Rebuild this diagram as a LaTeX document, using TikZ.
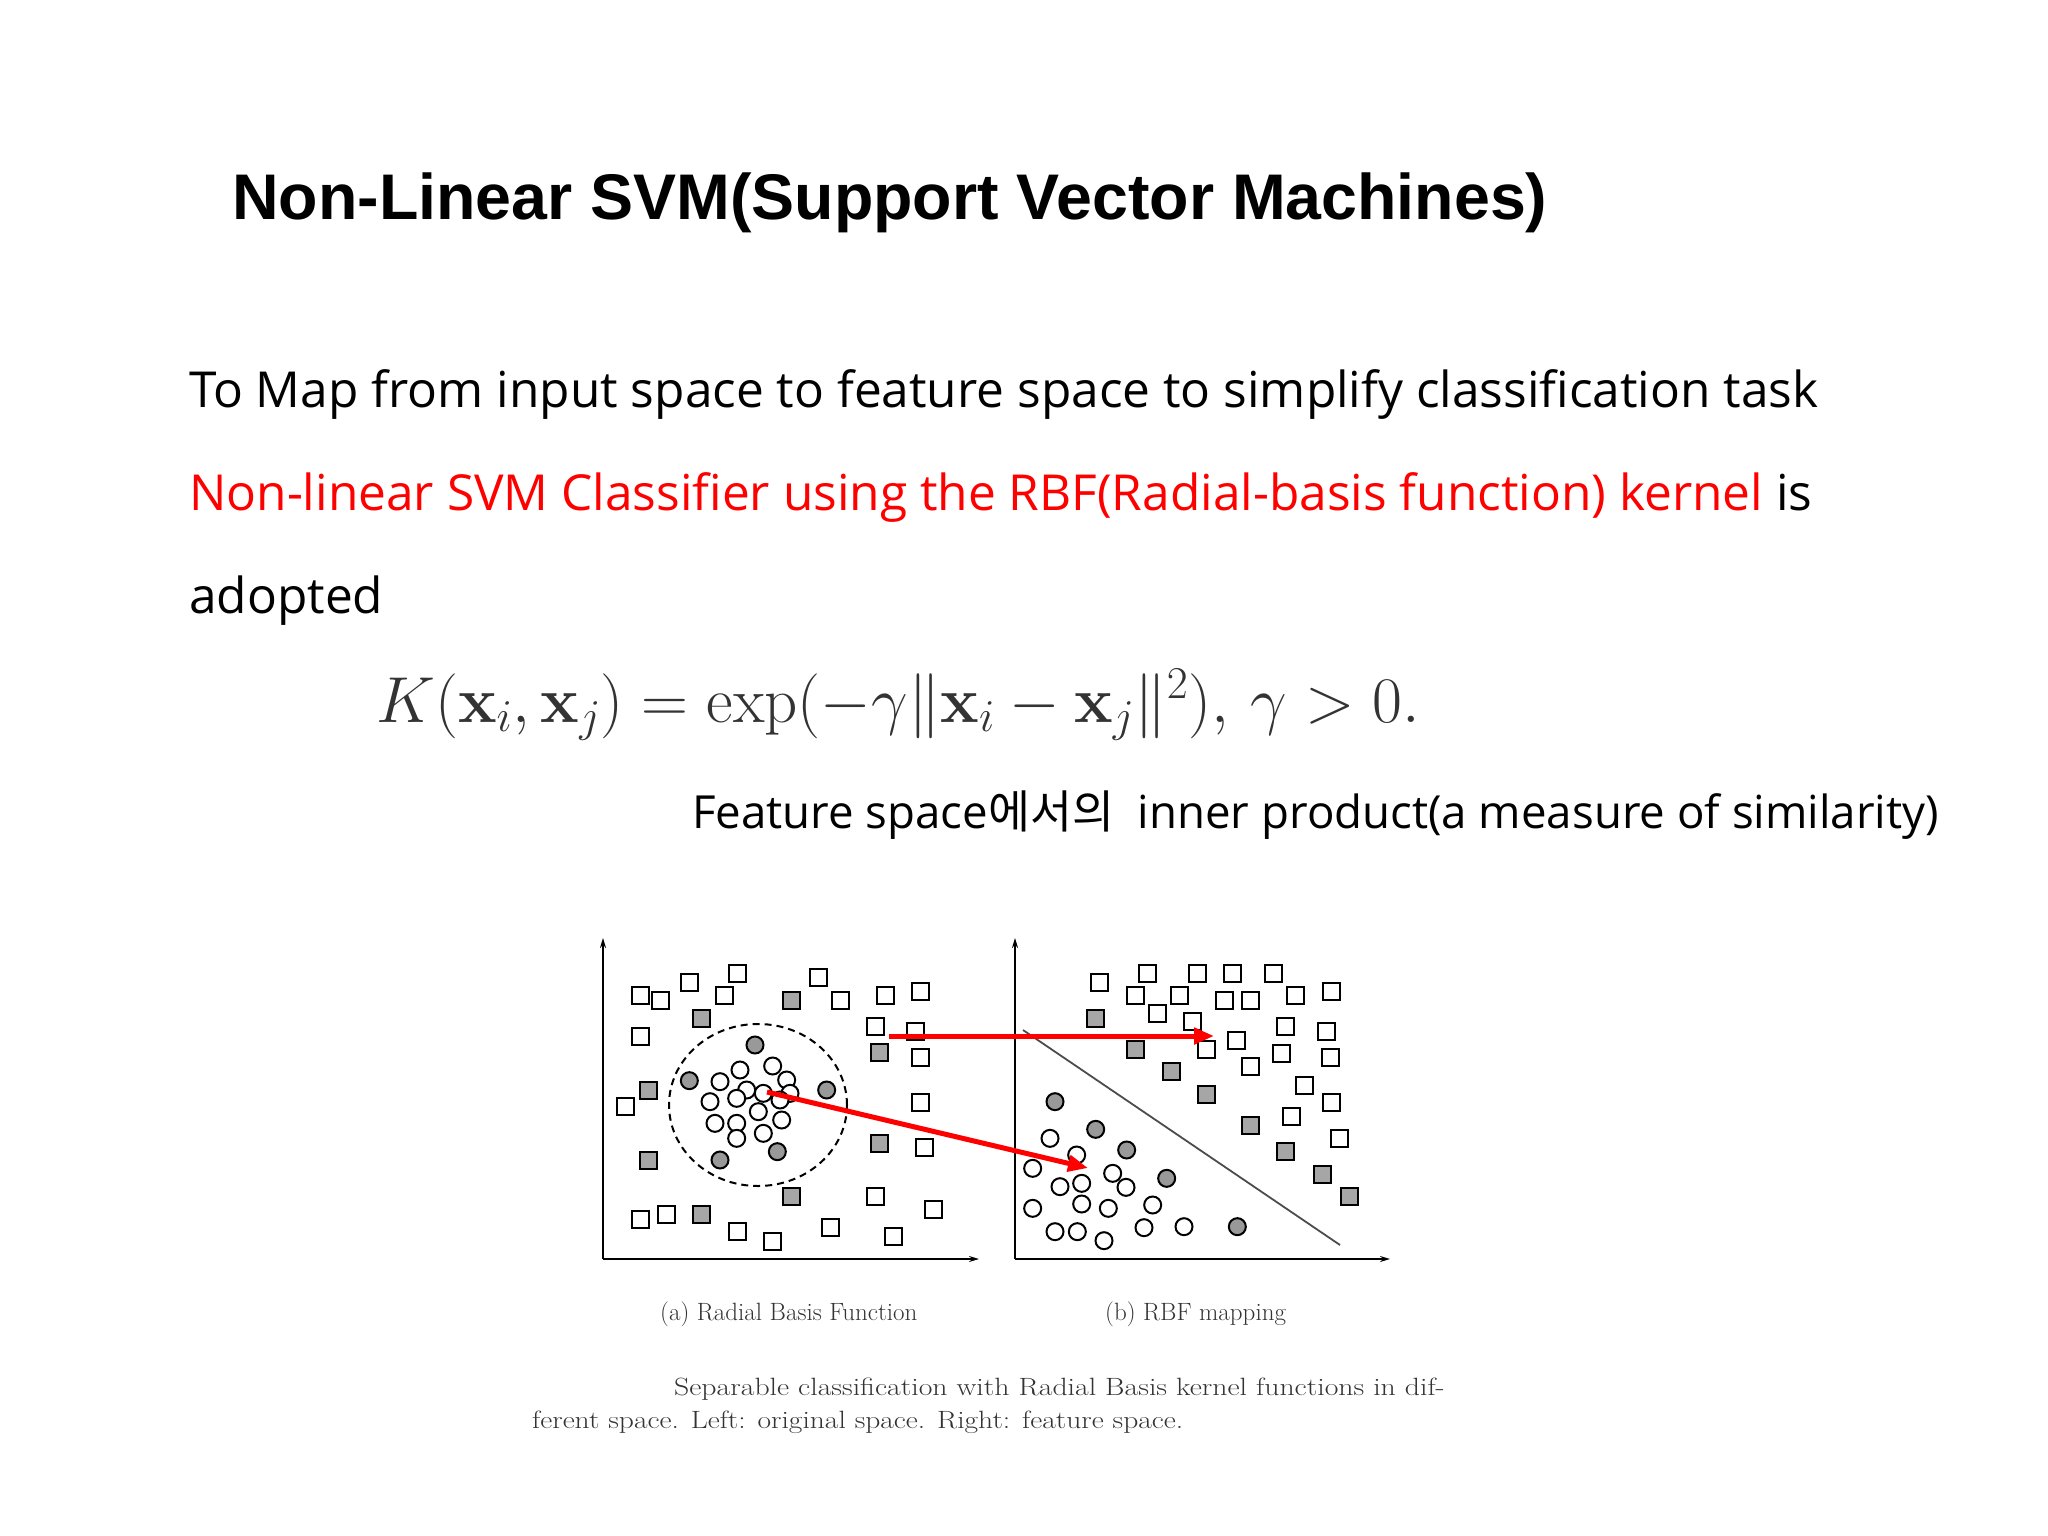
\RequirePackage{fix-cm}
\documentclass[tikz,border=0pt]{standalone}
\usepackage[no-math]{fontspec}
\usepackage{amsmath}
\setmainfont{Open Sans}[Ligatures=NoCommon]
\newfontfamily\titlefont{Liberation Sans}
\newfontfamily\krfont{Noto Sans CJK KR}
\newfontfamily\lmfont{Latin Modern Roman}
\usetikzlibrary{arrows.meta}
\begin{document}
\begin{tikzpicture}[x=1pt,y=-1pt,
  osq/.style={draw=black,line width=2pt,fill=white,minimum size=17pt,inner sep=0pt},
  fsq/.style={osq,fill=black!35},
  ocir/.style={draw=black,line width=2pt,fill=white,circle,minimum size=17pt,inner sep=0pt},
  fcir/.style={ocir,fill=black!40},
  axis/.style={line width=1.6pt,-{Stealth[length=10pt,width=6pt]}},
  redarrow/.style={red,line width=5pt,-{Triangle[length=20pt,width=16pt]}},
  lbl/.style={anchor=base west,inner sep=0pt},
  captext/.style={lbl,font=\lmfont\fontsize{25}{30}\selectfont,text=black!80}]
\useasboundingbox (0,0) rectangle (2048,1536);
\node[lbl,font=\titlefont\bfseries\fontsize{64.5}{70}\selectfont] (title) at (232,219) {Non-Linear SVM(Support Vector Machines)};
\node[lbl,font=\fontsize{49.6}{56}\selectfont] (l1) at (189,407) {To Map from input space to feature space to simplify classification task};
\node[lbl,font=\fontsize{49.6}{56}\selectfont] (l2) at (189,510) {\textcolor{red}{Non-linear SVM Classifier using the RBF(Radial-basis function) kernel} is};
\node[lbl,font=\fontsize{49.6}{56}\selectfont] (l3) at (189,613) {adopted};
\node[lbl,font=\fontsize{65}{70}\selectfont,text=black!80] (f) at (376,722) {$K(\mathbf{x}_i,\mathbf{x}_j)=\exp(-\gamma\|\mathbf{x}_i-\mathbf{x}_j\|^2),\,\gamma>0.$};
\node[lbl,font=\fontsize{45.6}{50}\selectfont] (fs) at (692,828) {Feature space{\krfont 에서의}\ \ inner product(a measure of similarity)};
% left plot
\coordinate (lo) at (603,1259);
\coordinate (ly) at (603,938);
\coordinate (lx) at (979,1259);
\draw[axis] (lo) -- (ly);
\draw[axis] (lo) -- (lx);
\draw[dashed,line width=2pt,dash pattern=on 7pt off 5pt] (758,1105) ellipse [x radius=89pt,y radius=81pt];
\foreach \a/\b [count=\i] in {150/197,212/210,297/158,443/130,402/197,685/142,750/210,885/197,990/183,150/318,857/290,975/305,990/382,105/530,990/517,1003/653,857/800,1030/838,150/867,228/852,443/905,548/933,722/892,910/920}
  \node[osq] (lsq\i) at ({590+\a/3},{930+\b/3}) {};
\foreach \a/\b [count=\i] in {333/265,603/210,175/480,868/368,175/690,868/640,603/800,333/852}
  \node[fsq] (lfs\i) at ({590+\a/3},{930+\b/3}) {};
\foreach \a/\b [count=\i] in {450/420,548/408,590/450,390/455,470/480,520/490,440/505,600/490,360/515,570/510,505/545,375/580,440/580,575/570,520/610,440/625}
  \node[ocir] (lc\i) at ({590+\a/3},{930+\b/3}) {};
\foreach \a/\b [count=\i] in {495/345,298/452,710/480,562/665,390/690}
  \node[fcir] (lfc\i) at ({590+\a/3},{930+\b/3}) {};
% right plot
\coordinate (ro) at (1015,1259);
\coordinate (ry) at (1015,938);
\coordinate (rx) at (1390,1259);
\draw[axis] (ro) -- (ry);
\draw[axis] (ro) -- (rx);
\coordinate (s1) at (1023,1030);
\coordinate (s2) at (1340,1245);
\draw[line width=1.8pt,black!70] (s1) -- (s2);
\foreach \a/\b [count=\i] in {298/158,443/130,592/130,698/130,820/130,405/197,538/197,672/210,750/210,885/197,993/183,473/250,578/275,857/290,980/305,710/330,618/357,845/370,990/382,752/410,912/465,993/517,873/558,1018/625}
  \node[osq] (rsq\i) at ({1000+\a/3},{930+\b/3}) {};
\foreach \a/\b [count=\i] in {285/265,405/357,513/423,618/492,752/585,857/665,967/732,1047/800}
  \node[fsq] (rfs\i) at ({1000+\a/3},{930+\b/3}) {};
\foreach \a/\b [count=\i] in {150/625,230/675,98/715,338/730,180/770,245/760,378/772,98/835,245/822,325/835,458/825,165/905,232/905,312/932,432/893,552/890}
  \node[ocir] (rc\i) at ({1000+\a/3},{930+\b/3}) {};
\foreach \a/\b [count=\i] in {165/515,287/598,380/660,500/745,712/890}
  \node[fcir] (rfc\i) at ({1000+\a/3},{930+\b/3}) {};
% red arrows
\coordinate (a1s) at (889,1036);
\coordinate (a1e) at (1214,1036);
\coordinate (a2s) at (767,1092);
\coordinate (a2e) at (1088,1168);
\draw[redarrow] (a1s) -- (a1e);
\draw[redarrow] (a2s) -- (a2e);
% captions
\node[captext] (ca) at (660,1320) {(a) Radial Basis Function};
\node[captext] (cb) at (1105,1320) {(b) RBF mapping};
\node[captext] (c1) at (674,1395) {\scalebox{1.19}[1]{Separable classification with Radial Basis kernel functions in dif-}};
\node[captext] (c2) at (532,1428) {\scalebox{1.18}[1]{ferent space. Left: original space. Right: feature space.}};
\end{tikzpicture}
\end{document}
